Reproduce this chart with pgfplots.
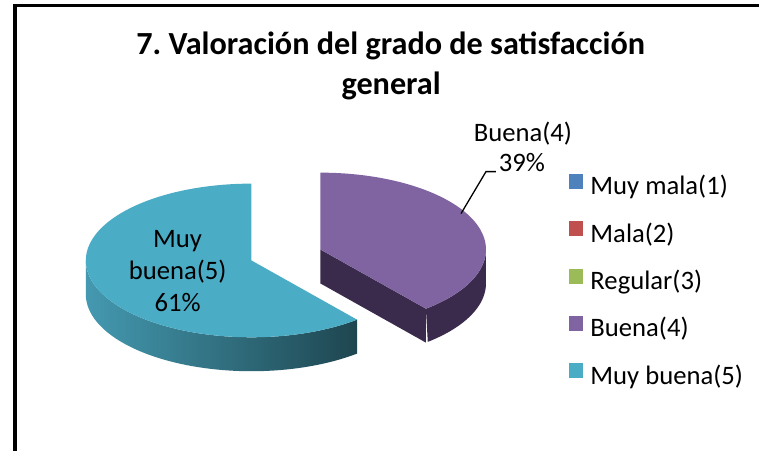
\documentclass[border=0pt]{standalone}
\usepackage{pgfplots}
\pgfplotsset{compat=1.18}
\usepackage{fontspec}
\setmainfont{Carlito}
\definecolor{cBlue}{HTML}{4F81BD}
\definecolor{cRed}{HTML}{C0504D}
\definecolor{cGreen}{HTML}{9BBB59}
\definecolor{cPurple}{HTML}{8064A2}
\definecolor{cAqua}{HTML}{4BACC6}
\definecolor{cPurpleSide}{HTML}{3A2B4C}
\definecolor{cAquaSideL}{HTML}{4499B0}
\definecolor{cAquaSideR}{HTML}{1E4650}
% data (percent of answers)
\def\vMuyMala{0}\def\vMala{0}\def\vRegular{0}\def\vBuena{39}\def\vMuyBuena{61}
\pgfmathsetmacro{\aA}{3.6*(\vMuyMala+\vMala+\vRegular)}
\pgfmathsetmacro{\aB}{\aA+3.6*\vBuena}
\pgfmathsetmacro{\aC}{\aB+3.6*\vMuyBuena}
% pie geometry (picture units)
\def\Rx{166}\def\Ry{77}\def\Dep{34}
\def\pcx{321}\def\pcy{250}
\def\acx{252}\def\acy{261}
\pgfmathsetmacro{\ptx}{\pcx+\Rx*sin(\aB)}
\pgfmathsetmacro{\pty}{\pcy-\Ry*cos(\aB)}
\pgfmathsetmacro{\ptyb}{\pty+\Dep}
\pgfmathsetmacro{\pcyb}{\pcy+\Dep}
\begin{document}
\frenchspacing
\begin{tikzpicture}
\begin{axis}[
  scale only axis, width=761bp, height=452bp,
  xmin=0, xmax=761, ymin=0, ymax=452, y dir=reverse,
  axis lines=none, clip=false,
  legend style={at={(axis cs:569.5,174)}, anchor=north west, draw=none, fill=none,
    inner sep=0pt, row sep=20.5bp, font=\fontsize{26.8}{30}\selectfont,
    nodes={inner sep=0pt, text height=18bp, text depth=6bp},
    /tikz/every odd column/.append style={column sep=7bp}},
  legend cell align=left,
  legend image code/.code={\fill[#1] (0bp,0bp) rectangle (15bp,15bp);},
]
\path (axis cs:0,0) rectangle (axis cs:761,452);
% Muy buena: side wall
\addplot[draw=none, left color=cAquaSideL, right color=cAquaSideR, domain=0:2, samples=181, variable=\t, forget plot]
 ({\acx + \Rx*sin( (\t<=1) ? (\aB+(270-\aB)*\t) : (270-(270-\aB)*(\t-1)) )},
  {\acy - \Ry*cos( (\t<=1) ? (\aB+(270-\aB)*\t) : (270-(270-\aB)*(\t-1)) ) + (\t>1)*\Dep});
% Muy buena: top
\addplot[fill=cAqua, draw=none, domain=\aB:\aC, samples=90, variable=\t, forget plot]
 ({\acx+\Rx*sin(\t)},{\acy-\Ry*cos(\t)}) -- (axis cs:\acx,\acy) -- cycle;
% Buena: side wall
\addplot[fill=cPurpleSide, draw=none, domain=0:2, samples=121, variable=\t, forget plot]
 ({\pcx + \Rx*sin( (\t<=1) ? (90+(\aB-90)*\t) : (\aB-(\aB-90)*(\t-1)) )},
  {\pcy - \Ry*cos( (\t<=1) ? (90+(\aB-90)*\t) : (\aB-(\aB-90)*(\t-1)) ) + (\t>1)*\Dep});
% Buena: cut face
\addplot[fill=cPurpleSide, draw=none, forget plot] coordinates {(\pcx,\pcy) (\ptx,\pty) (\ptx,\ptyb) (\pcx,\pcyb)} -- cycle;
% Buena: top
\addplot[fill=cPurple, draw=none, domain=\aA:\aB, samples=70, variable=\t, forget plot]
 ({\pcx+\Rx*sin(\t)},{\pcy-\Ry*cos(\t)}) -- (axis cs:\pcx,\pcy) -- cycle;

\addlegendimage{fill=cBlue, draw=none}\addlegendentry{Muy mala(1)}
\addlegendimage{fill=cRed, draw=none}\addlegendentry{Mala(2)}
\addlegendimage{fill=cGreen, draw=none}\addlegendentry{Regular(3)}
\addlegendimage{fill=cPurple, draw=none}\addlegendentry{Buena(4)}
\addlegendimage{fill=cAqua, draw=none}\addlegendentry{Muy buena(5)}

% title
\node[font=\bfseries\fontsize{32.4}{36}\selectfont, anchor=base] at (axis cs:391.5,55) {7. Valoración del grado de satisfacción};
\node[font=\bfseries\fontsize{32.4}{36}\selectfont, anchor=base] at (axis cs:392,95) {general};
% data labels
\node[font=\fontsize{26.8}{30}\selectfont, anchor=base] at (axis cs:178,248) {Muy};
\node[font=\fontsize{26.8}{30}\selectfont, anchor=base] at (axis cs:178,280) {buena(5)};
\node[font=\fontsize{26.8}{30}\selectfont, anchor=base] at (axis cs:178,312) {61\%};
\node[font=\fontsize{26.8}{30}\selectfont, anchor=base] at (axis cs:524,142) {Buena(4)};
\node[font=\fontsize{26.8}{30}\selectfont, anchor=base] at (axis cs:523,172) {39\%};
\draw[line width=1.3bp] (axis cs:462,214) -- (axis cs:487,172) -- (axis cs:497,172);
% frame
\draw[line width=3.2bp] (axis cs:15,452) -- (axis cs:15,5.5) -- (axis cs:761,5.5);
\end{axis}
\end{tikzpicture}
\end{document}
